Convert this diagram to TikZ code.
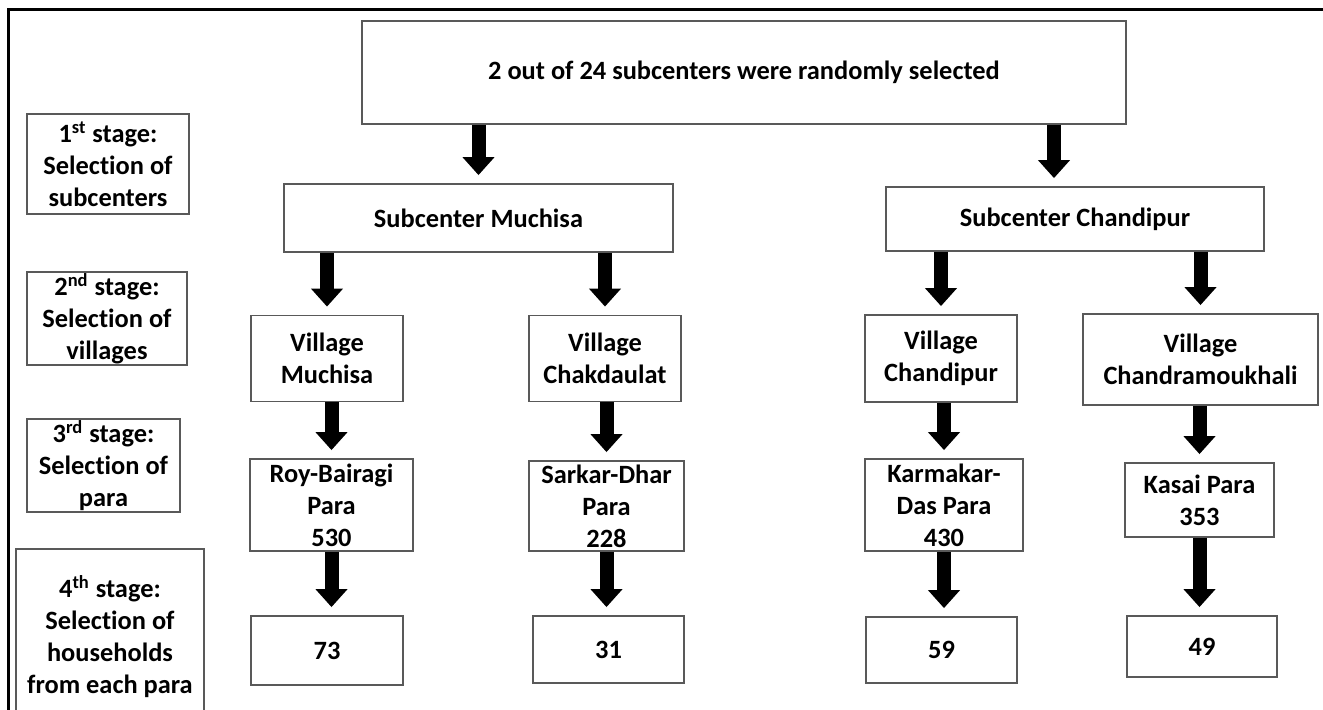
\documentclass[tikz,border=0pt]{standalone}
\usepackage{fontspec}
\setmainfont{Carlito}[Ligatures=NoCommon]
\usepackage{tikz}
\usetikzlibrary{arrows.meta, positioning}
\tikzstyle{process} = [rectangle, inner sep=0pt, align=center, draw=black!65, line width=0.9pt, font=\fontsize{13.2}{16}\selectfont\bfseries]
\tikzstyle{stage} = [process]
\tikzstyle{arrow} = [line width=7pt, -{Triangle[width=15.5pt, length=9pt]}, shorten >=4pt]

\begin{document}
\begin{tikzpicture}[x=0.5pt, y=-0.5pt]
        \useasboundingbox (0,0) rectangle (1323,710);
        \clip (0,0) rectangle (1323,710);
        \fill[white] (0,0) rectangle (1323,710);
        \draw[line width=1.5pt] (8,740) -- (8,10) -- (1340,10);

        % stages on the left
        \node (st1) [stage, minimum width=81pt, minimum height=50pt] at (108,164) {1\textsuperscript{st} stage:\\Selection of\\subcenters};
        \node (st2) [stage, minimum width=80pt, minimum height=46.5pt] at (107,318.5) {2\textsuperscript{nd} stage:\\Selection of\\villages};
        \node (st3) [stage, minimum width=76.5pt, minimum height=46.5pt] at (103.5,465.5) {3\textsuperscript{rd} stage:\\Selection of\\para};
        \node (st4) [stage, minimum width=94pt, minimum height=87.5pt] at (110,636.5) {4\textsuperscript{th} stage:\\Selection of\\households\\from each para};

        % tree
        \node (top) [process, minimum width=382pt, minimum height=51.5pt] at (744,72.5) {2 out of 24 subcenters were randomly selected};
        \node (sc1) [process, minimum width=194.5pt, minimum height=34pt] at (478.5,218) {Subcenter Muchisa};
        \node (sc2) [process, minimum width=189pt, minimum height=32pt] at (1075,219) {Subcenter Chandipur};

        \node (v1) [process, minimum width=76pt, minimum height=43pt] at (327,358.5) {Village\\Muchisa};
        \node (v2) [process, minimum width=76pt, minimum height=43pt] at (605,358.5) {Village\\Chakdaulat};
        \node (v3) [process, minimum width=76pt, minimum height=43.5pt] at (941,358.5) {Village\\Chandipur};
        \node (v4) [process, minimum width=117.5pt, minimum height=45.5pt] at (1200.5,359.5) {Village\\Chandramoukhali};

        \node (p1) [process, minimum width=81.5pt, minimum height=46pt] at (331.5,505) {Roy-Bairagi\\Para\\530};
        \node (p2) [process, minimum width=77.5pt, minimum height=45pt] at (606.5,506) {Sarkar-Dhar\\Para\\228};
        \node (p3) [process, minimum width=79pt, minimum height=46pt] at (944,505) {Karmakar-\\Das Para\\430};
        \node (p4) [process, minimum width=74.5pt, minimum height=37pt] at (1199.5,500) {Kasai Para\\353};

        \node (h1) [process, minimum width=76pt, minimum height=34.5pt] at (327,650.5) {73};
        \node (h2) [process, minimum width=75.5pt, minimum height=33.5pt] at (608.5,649.5) {31};
        \node (h3) [process, minimum width=75.5pt, minimum height=33pt] at (941.5,650) {59};
        \node (h4) [process, minimum width=75pt, minimum height=30.5pt] at (1202,646.5) {49};

        \draw [arrow] (top.south -| sc1.north) -- (sc1.north);
        \draw [arrow] ([xshift=-10.5pt]top.south -| sc2.north) -- ([xshift=-10.5pt]sc2.north);
        \draw [arrow] (sc1.south -| v1.north) -- (v1.north);
        \draw [arrow] (sc1.south -| v2.north) -- (v2.north);
        \draw [arrow] (sc2.south -| v3.north) -- (v3.north);
        \draw [arrow] (sc2.south -| v4.north) -- (v4.north);
        \draw [arrow] (v1.south -| p1.north) -- (p1.north);
        \draw [arrow] (v2.south -| p2.north) -- (p2.north);
        \draw [arrow] (v3.south -| p3.north) -- (p3.north);
        \draw [arrow] (v4.south -| p4.north) -- (p4.north);
        \draw [arrow] (p1.south) -- (p1.south |- h1.north);
        \draw [arrow] (p2.south) -- (p2.south |- h2.north);
        \draw [arrow] (p3.south) -- (p3.south |- h3.north);
        \draw [arrow] (p4.south) -- (p4.south |- h4.north);
    \end{tikzpicture}
\end{document}
